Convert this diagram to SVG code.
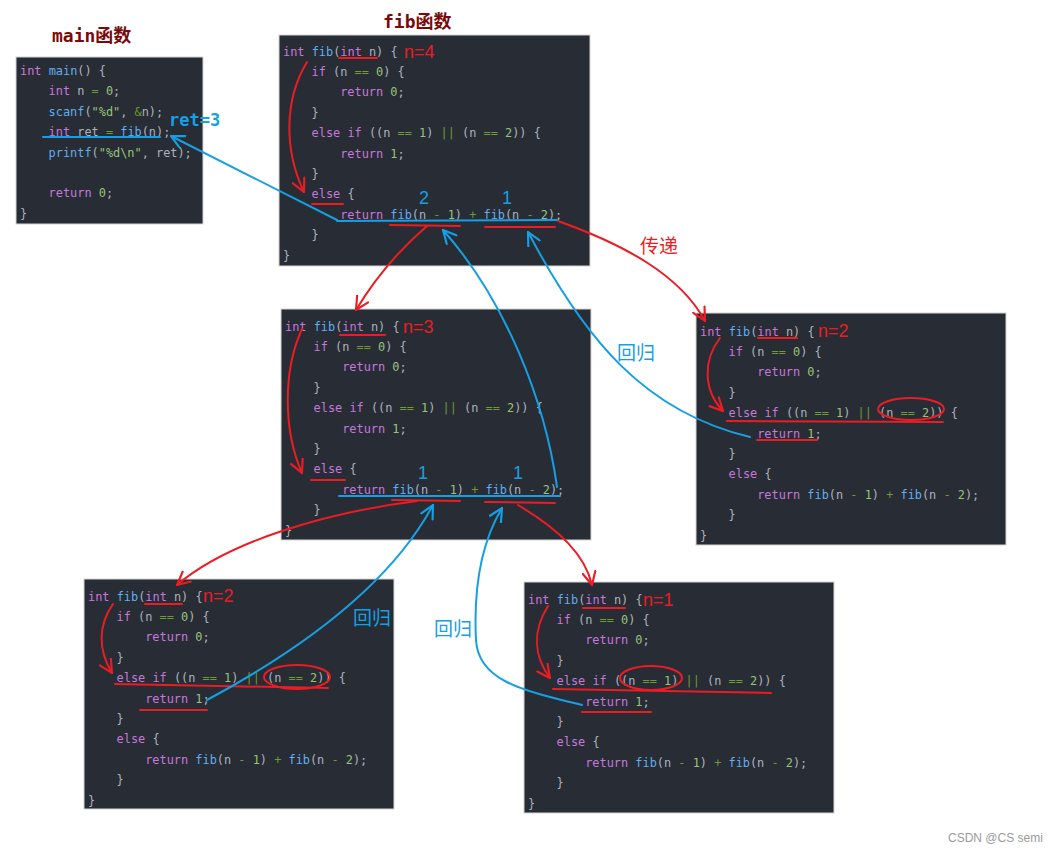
<svg xmlns="http://www.w3.org/2000/svg" width="1059" height="855" viewBox="0 0 1059 855">
<style>
.bg{fill:#282c34;stroke:#d4d4d4;stroke-width:1}
.code{font-family:"DejaVu Sans Mono","Liberation Mono",monospace;font-size:11.9px;fill:#abb2bf}
.k{fill:#c678dd}.f{fill:#61afef}.n{fill:#98c379}.o{fill:#6f9a34}.s{fill:#98c379}
.title{font-family:"DejaVu Sans Mono","Noto Sans CJK SC",monospace;font-size:18px;font-weight:bold;fill:#7a0a0a}
.rl{fill:none;stroke:#ec1c24;stroke-width:2;stroke-linecap:round}
.bl{fill:none;stroke:#16a0e3;stroke-width:2;stroke-linecap:round}
.rt{font-family:"Liberation Sans",Arial,sans-serif;font-size:18px;fill:#ec1c24}
.bt{font-family:"Liberation Sans",Arial,sans-serif;font-size:18px;fill:#16a0e3}
.cjkr{font-family:"Noto Sans CJK SC",sans-serif;font-size:19px;fill:#ec1c24}
.cjkb{font-family:"Noto Sans CJK SC",sans-serif;font-size:19px;fill:#16a0e3}
.wm{font-family:"Liberation Sans",Arial,sans-serif;font-size:12px;fill:#9a9a9a}
</style>
<defs>
<marker id="ar" viewBox="0 0 14 14" refX="13" refY="7" markerWidth="15" markerHeight="15" markerUnits="userSpaceOnUse" orient="auto"><path d="M1,1 L13,7 L1,13" fill="none" stroke="#ec1c24" stroke-width="2" stroke-linecap="round"/></marker>
<marker id="ab" viewBox="0 0 14 14" refX="13" refY="7" markerWidth="15" markerHeight="15" markerUnits="userSpaceOnUse" orient="auto"><path d="M1,1 L13,7 L1,13" fill="none" stroke="#16a0e3" stroke-width="2" stroke-linecap="round"/></marker>
</defs>
<rect width="1059" height="855" fill="#ffffff"/>

<text class="title" x="52" y="42">main函数</text>
<text class="title" x="383" y="28">fib函数</text>

<g id="main-node">
<rect class="bg" x="16" y="57" width="187" height="167"/>
<g class="code">
<text x="20" y="75"><tspan class="k">int</tspan> <tspan class="f">main</tspan>() {</text>
<text x="48.6" y="95.4"><tspan class="k">int</tspan> n <tspan class="o">=</tspan> <tspan class="n">0</tspan>;</text>
<text x="48.6" y="115.8"><tspan class="f">scanf</tspan>(<tspan class="s">"%d"</tspan>, <tspan class="o">&amp;</tspan>n);</text>
<text x="48.6" y="136.2"><tspan class="k">int</tspan> ret <tspan class="o">=</tspan> <tspan class="f">fib</tspan>(n);</text>
<text x="48.6" y="156.6"><tspan class="f">printf</tspan>(<tspan class="s">"%d\n"</tspan>, ret);</text>
<text x="48.6" y="197.4"><tspan class="k">return</tspan> <tspan class="n">0</tspan>;</text>
<text x="20" y="217.8">}</text>
</g>
<path class="bl" d="M43,137 L160,137"/>
<text x="169" y="126" style="font-family:'DejaVu Sans Mono',monospace;font-size:17px;font-weight:bold;fill:#16a0e3">ret=3</text>
</g>

<g id="fib-n4">
<rect class="bg" x="279" y="35" width="311" height="231"/>
<g class="code">
<text x="283" y="55.5"><tspan class="k">int</tspan> <tspan class="f">fib</tspan>(<tspan class="k">int</tspan> n) {</text>
<text x="311.6" y="75.9"><tspan class="k">if</tspan> (n <tspan class="o">==</tspan> <tspan class="n">0</tspan>) {</text>
<text x="340.2" y="96.3"><tspan class="k">return</tspan> <tspan class="n">0</tspan>;</text>
<text x="311.6" y="116.7">}</text>
<text x="311.6" y="137.1"><tspan class="k">else if</tspan> ((n <tspan class="o">==</tspan> <tspan class="n">1</tspan>) <tspan class="o">||</tspan> (n <tspan class="o">==</tspan> <tspan class="n">2</tspan>)) {</text>
<text x="340.2" y="157.5"><tspan class="k">return</tspan> <tspan class="n">1</tspan>;</text>
<text x="311.6" y="177.9">}</text>
<text x="311.6" y="198.3"><tspan class="k">else</tspan> {</text>
<text x="340.2" y="218.7"><tspan class="k">return</tspan> <tspan class="f">fib</tspan>(n <tspan class="o">-</tspan> <tspan class="n">1</tspan>) <tspan class="o">+</tspan> <tspan class="f">fib</tspan>(n <tspan class="o">-</tspan> <tspan class="n">2</tspan>);</text>
<text x="311.6" y="239.1">}</text>
<text x="283" y="259.5">}</text>
</g>
<text class="rt" x="404" y="58">n=4</text>
<path class="rl" d="M339,58 L377,58"/>
<path class="rl" d="M307,62 C284,100 284,150 304,192" marker-end="url(#ar)"/>
<path class="rl" d="M312,204 L343,204"/>
<path class="bl" d="M337,221 L557,220"/>
<path class="rl" d="M390,225 L460,226"/>
<path class="rl" d="M485,227 L555,227"/>
<text class="bt" x="424" y="203.5" text-anchor="middle">2</text>
<text class="bt" x="507" y="203.5" text-anchor="middle">1</text>
</g>

<g id="fib-n3">
<rect class="bg" x="281" y="309" width="310" height="231"/>
<g class="code">
<text x="285" y="330.5"><tspan class="k">int</tspan> <tspan class="f">fib</tspan>(<tspan class="k">int</tspan> n) {</text>
<text x="313.6" y="350.9"><tspan class="k">if</tspan> (n <tspan class="o">==</tspan> <tspan class="n">0</tspan>) {</text>
<text x="342.2" y="371.3"><tspan class="k">return</tspan> <tspan class="n">0</tspan>;</text>
<text x="313.6" y="391.7">}</text>
<text x="313.6" y="412.1"><tspan class="k">else if</tspan> ((n <tspan class="o">==</tspan> <tspan class="n">1</tspan>) <tspan class="o">||</tspan> (n <tspan class="o">==</tspan> <tspan class="n">2</tspan>)) {</text>
<text x="342.2" y="432.5"><tspan class="k">return</tspan> <tspan class="n">1</tspan>;</text>
<text x="313.6" y="452.9">}</text>
<text x="313.6" y="473.3"><tspan class="k">else</tspan> {</text>
<text x="342.2" y="493.7"><tspan class="k">return</tspan> <tspan class="f">fib</tspan>(n <tspan class="o">-</tspan> <tspan class="n">1</tspan>) <tspan class="o">+</tspan> <tspan class="f">fib</tspan>(n <tspan class="o">-</tspan> <tspan class="n">2</tspan>);</text>
<text x="313.6" y="514.1">}</text>
<text x="285" y="534.5">}</text>
</g>
<text class="rt" x="403" y="333">n=3</text>
<path class="rl" d="M340,335 L385,335"/>
<path class="rl" d="M302,329 C283,370 283,430 302,473" marker-end="url(#ar)"/>
<path class="rl" d="M311,480 L345,480"/>
<path class="bl" d="M339,496 L560,496"/>
<path class="rl" d="M392,500 L460,501"/>
<path class="rl" d="M485,502 L555,503"/>
<text class="bt" x="423" y="478.5" text-anchor="middle">1</text>
<text class="bt" x="518" y="478.5" text-anchor="middle">1</text>
</g>

<g id="fib-n2-right">
<rect class="bg" x="696" y="313" width="310" height="232"/>
<g class="code">
<text x="700" y="335.5"><tspan class="k">int</tspan> <tspan class="f">fib</tspan>(<tspan class="k">int</tspan> n) {</text>
<text x="728.6" y="355.9"><tspan class="k">if</tspan> (n <tspan class="o">==</tspan> <tspan class="n">0</tspan>) {</text>
<text x="757.2" y="376.3"><tspan class="k">return</tspan> <tspan class="n">0</tspan>;</text>
<text x="728.6" y="396.7">}</text>
<text x="728.6" y="417.1"><tspan class="k">else if</tspan> ((n <tspan class="o">==</tspan> <tspan class="n">1</tspan>) <tspan class="o">||</tspan> (n <tspan class="o">==</tspan> <tspan class="n">2</tspan>)) {</text>
<text x="757.2" y="437.5"><tspan class="k">return</tspan> <tspan class="n">1</tspan>;</text>
<text x="728.6" y="457.9">}</text>
<text x="728.6" y="478.3"><tspan class="k">else</tspan> {</text>
<text x="757.2" y="498.7"><tspan class="k">return</tspan> <tspan class="f">fib</tspan>(n <tspan class="o">-</tspan> <tspan class="n">1</tspan>) <tspan class="o">+</tspan> <tspan class="f">fib</tspan>(n <tspan class="o">-</tspan> <tspan class="n">2</tspan>);</text>
<text x="728.6" y="519.1">}</text>
<text x="700" y="539.5">}</text>
</g>
<text class="rt" x="818" y="337">n=2</text>
<path class="rl" d="M758,338 L797,338"/>
<path class="rl" d="M720,338 C703,360 703,390 723,411" marker-end="url(#ar)"/>
<ellipse class="rl" cx="911" cy="409" rx="33" ry="11"/>
<path class="rl" d="M727,421 L943,422"/>
<path class="rl" d="M757,440 L817,440"/>
</g>

<g id="fib-n2-left">
<rect class="bg" x="84" y="579" width="310" height="230"/>
<g class="code">
<text x="88" y="600.5"><tspan class="k">int</tspan> <tspan class="f">fib</tspan>(<tspan class="k">int</tspan> n) {</text>
<text x="116.6" y="620.9"><tspan class="k">if</tspan> (n <tspan class="o">==</tspan> <tspan class="n">0</tspan>) {</text>
<text x="145.2" y="641.3"><tspan class="k">return</tspan> <tspan class="n">0</tspan>;</text>
<text x="116.6" y="661.7">}</text>
<text x="116.6" y="682.1"><tspan class="k">else if</tspan> ((n <tspan class="o">==</tspan> <tspan class="n">1</tspan>) <tspan class="o">||</tspan> (n <tspan class="o">==</tspan> <tspan class="n">2</tspan>)) {</text>
<text x="145.2" y="702.5"><tspan class="k">return</tspan> <tspan class="n">1</tspan>;</text>
<text x="116.6" y="722.9">}</text>
<text x="116.6" y="743.3"><tspan class="k">else</tspan> {</text>
<text x="145.2" y="763.7"><tspan class="k">return</tspan> <tspan class="f">fib</tspan>(n <tspan class="o">-</tspan> <tspan class="n">1</tspan>) <tspan class="o">+</tspan> <tspan class="f">fib</tspan>(n <tspan class="o">-</tspan> <tspan class="n">2</tspan>);</text>
<text x="116.6" y="784.1">}</text>
<text x="88" y="804.5">}</text>
</g>
<text class="rt" x="203" y="602">n=2</text>
<path class="rl" d="M145,604 L182,604"/>
<path class="rl" d="M113,604 C98,625 98,650 112,673" marker-end="url(#ar)"/>
<ellipse class="rl" cx="297" cy="677" rx="33" ry="12"/>
<path class="rl" d="M115,684 L328,688"/>
<path class="rl" d="M140,710 L207,710"/>
</g>

<g id="fib-n1">
<rect class="bg" x="524" y="582" width="310" height="231"/>
<g class="code">
<text x="528" y="603.5"><tspan class="k">int</tspan> <tspan class="f">fib</tspan>(<tspan class="k">int</tspan> n) {</text>
<text x="556.6" y="623.9"><tspan class="k">if</tspan> (n <tspan class="o">==</tspan> <tspan class="n">0</tspan>) {</text>
<text x="585.2" y="644.3"><tspan class="k">return</tspan> <tspan class="n">0</tspan>;</text>
<text x="556.6" y="664.7">}</text>
<text x="556.6" y="685.1"><tspan class="k">else if</tspan> ((n <tspan class="o">==</tspan> <tspan class="n">1</tspan>) <tspan class="o">||</tspan> (n <tspan class="o">==</tspan> <tspan class="n">2</tspan>)) {</text>
<text x="585.2" y="705.5"><tspan class="k">return</tspan> <tspan class="n">1</tspan>;</text>
<text x="556.6" y="725.9">}</text>
<text x="556.6" y="746.3"><tspan class="k">else</tspan> {</text>
<text x="585.2" y="766.7"><tspan class="k">return</tspan> <tspan class="f">fib</tspan>(n <tspan class="o">-</tspan> <tspan class="n">1</tspan>) <tspan class="o">+</tspan> <tspan class="f">fib</tspan>(n <tspan class="o">-</tspan> <tspan class="n">2</tspan>);</text>
<text x="556.6" y="787.1">}</text>
<text x="528" y="807.5">}</text>
</g>
<text class="rt" x="643" y="606">n=1</text>
<path class="rl" d="M583,608 L625,608"/>
<path class="rl" d="M548,606 C533,630 533,655 550,678" marker-end="url(#ar)"/>
<ellipse class="rl" cx="651" cy="678" rx="31" ry="12"/>
<path class="rl" d="M553,689 L771,693"/>
<path class="rl" d="M582,712 L651,712"/>
</g>

<g id="connectors">
<path class="bl" d="M337,220 L171,136" marker-end="url(#ab)"/>
<path class="rl" d="M558,221 C625,245 680,275 705,321" marker-end="url(#ar)"/>
<path class="rl" d="M427,226 Q385,262 356,310" marker-end="url(#ar)"/>
<path class="bl" d="M557,487 C545,400 505,300 443,230" marker-end="url(#ab)"/>
<path class="bl" d="M750,437 C645,412 585,340 528,232" marker-end="url(#ab)"/>
<path class="rl" d="M417,501 C330,512 230,540 177,585" marker-end="url(#ar)"/>
<path class="rl" d="M518,505 C560,530 585,555 592,585" marker-end="url(#ar)"/>
<path class="bl" d="M207,700 C300,650 390,585 433,505" marker-end="url(#ab)"/>
<path class="bl" d="M582,705 C520,690 478,680 476,640 S477,550 502,508" marker-end="url(#ab)"/>
<text class="cjkr" x="640" y="253">传递</text>
<text class="cjkb" x="617" y="360">回归</text>
<text class="cjkb" x="353" y="625">回归</text>
<text class="cjkb" x="434" y="636">回归</text>
</g>

<text class="wm" x="948" y="842">CSDN @CS semi</text>
</svg>
